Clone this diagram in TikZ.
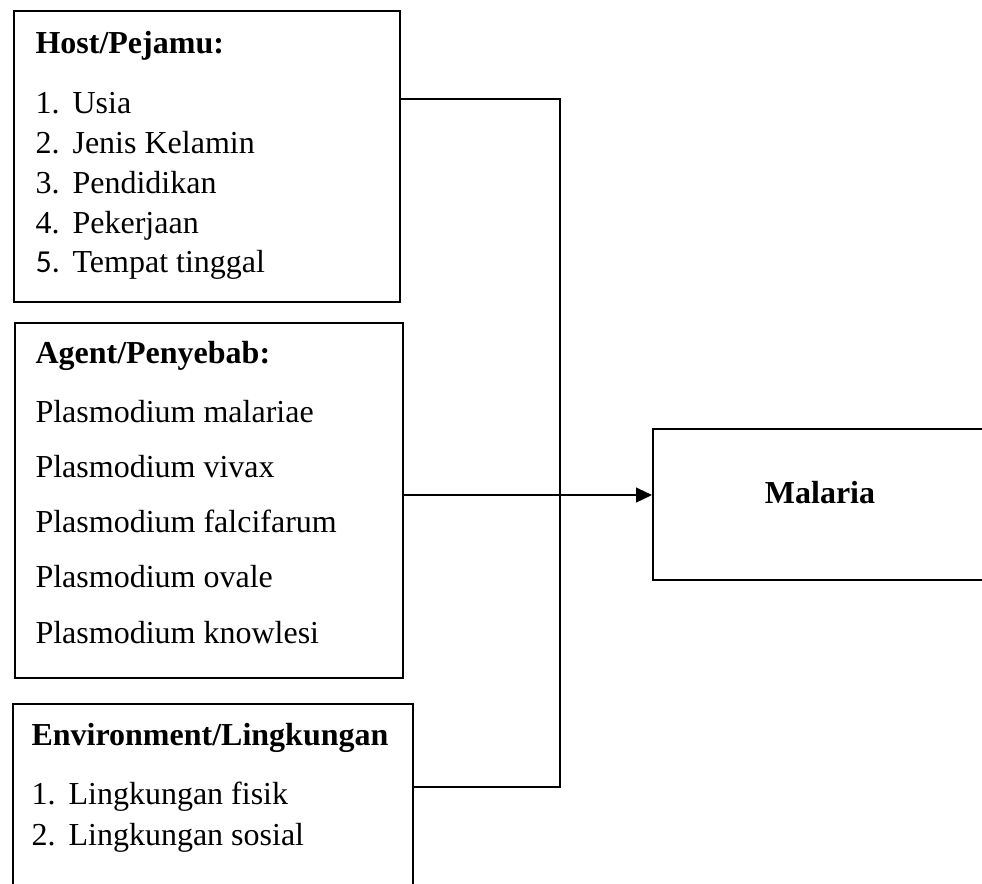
\documentclass[tikz,border=0pt]{standalone}
\usepackage{fontspec}
\setmainfont{Liberation Serif}
\newfontfamily\calibrifont{Carlito}
\usetikzlibrary{arrows.meta,calc,positioning}
\tikzset{
  box/.style={draw,line width=0.9pt,anchor=north west,inner sep=0pt},
  txt/.style={anchor=base west,inner sep=0pt,font=\fontsize{12}{14}\selectfont},
  head/.style={txt,font=\fontsize{12}{14}\selectfont\bfseries},
  link/.style={line width=0.5pt},
}
\newcommand{\num}[1]{\makebox[13.9pt][l]{#1}}

\begin{document}
\begin{tikzpicture}[x=0.375pt,y=-0.375pt]
\useasboundingbox (0,0) rectangle (982,883);
% boxes
\node[box,minimum width=386*0.375pt,minimum height=291*0.375pt] (host) at (13,10) {};
\node[box,minimum width=388*0.375pt,minimum height=355*0.375pt] (agent) at (14,322) {};
\node[box,minimum width=400*0.375pt,minimum height=220*0.375pt] (env) at (12,703) {};
\node[box,minimum width=360*0.375pt,minimum height=151*0.375pt] (malaria) at (652,428) {};
% host
\node[head] (hosthd) at (35,53) {Host/Pejamu:};
\foreach \y/\lab [count=\i] in {113/Usia,153/Jenis Kelamin,193/Pendidikan,233/Pekerjaan}
  \node[txt] (host\i) at (35,\y) {\num{\i.}\lab};
\node[txt] (host5) at (35,272) {\num{\calibrifont 5.}Tempat tinggal};
% agent
\node[head] (agenthd) at (35,363) {Agent/Penyebab:};
\foreach \y/\lab [count=\i] in {422/malariae,477/vivax,532/falcifarum,587/ovale,643/knowlesi}
  \node[txt] (agent\i) at (35,\y) {Plasmodium \lab};
% environment
\node[head] (envhd) at (31,745) {Environment/Lingkungan};
\node[txt] (env1) at (31,804) {\num{1.}Lingkungan fisik};
\node[txt] (env2) at (31,845) {\num{2.}Lingkungan sosial};
% outcome
\node[head,anchor=base] (malariatxt) at (820,503) {Malaria};
% connectors
\coordinate (bustop) at (560,99);
\coordinate (busbot) at (560,787);
\coordinate (agentlvl) at (0,495);
\draw[link] (host.east |- bustop) -- (bustop) -- (busbot) -- (env.east |- busbot);
\draw[link,-{Triangle[length=6pt,width=5.6pt]}] (agent.east |- agentlvl) -- (malaria.west |- agentlvl);
\end{tikzpicture}
\end{document}
